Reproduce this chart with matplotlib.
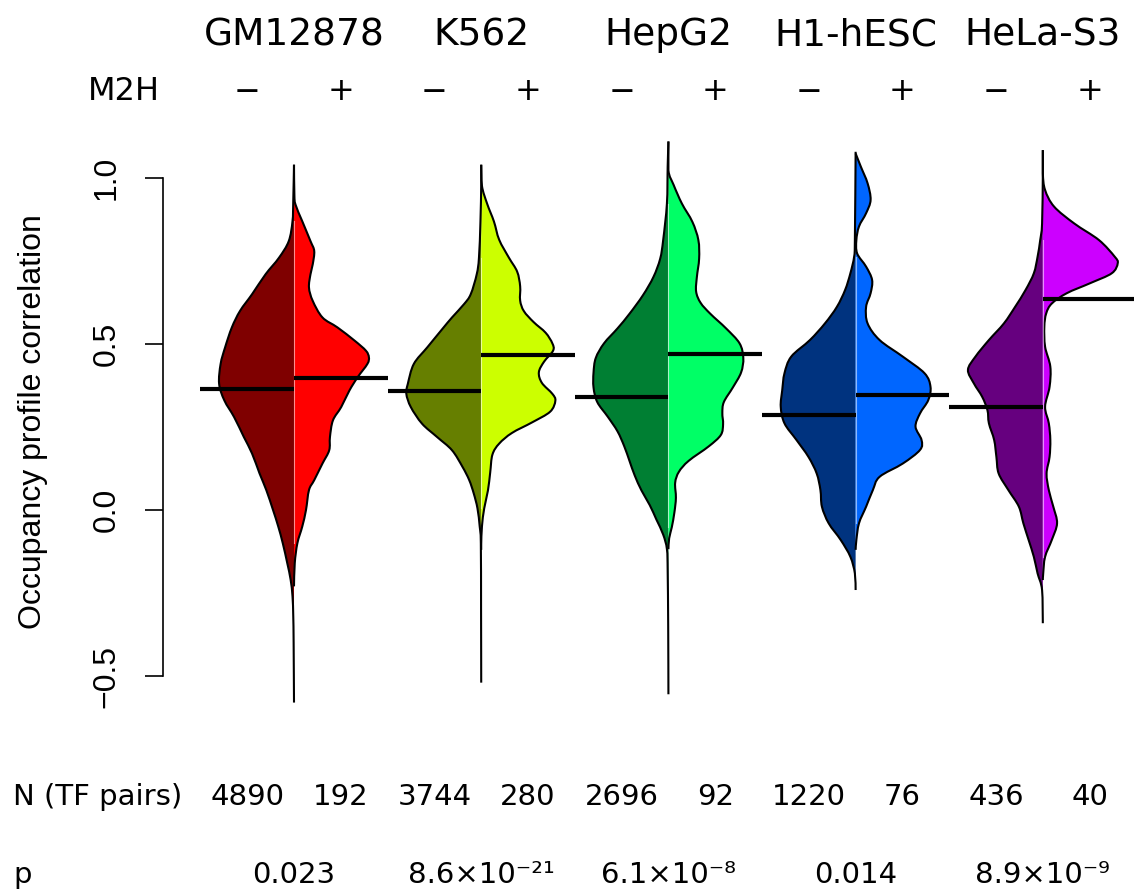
import numpy as np
import matplotlib
matplotlib.use('Agg')
import matplotlib.pyplot as plt
from matplotlib.path import Path
from matplotlib.patches import PathPatch
from matplotlib.transforms import blended_transform_factory

cell_lines = ['GM12878', 'K562', 'HepG2', 'H1-hESC', 'HeLa-S3']
n_minus = ['4890', '3744', '2696', '1220', '436']
n_plus = ['192', '280', '92', '76', '40']
p_values = ['0.023', '8.6×10\u207b\u00b2\u00b9', '6.1×10\u207b\u2078', '0.014', '8.9×10\u207b\u2079']

median_minus = [0.364, 0.358, 0.340, 0.286, 0.310]
median_plus = [0.398, 0.467, 0.470, 0.346, 0.636]

color_plus = ['#FF0000', '#CCFF00', '#00FF66', '#0066FF', '#CC00FF']
color_minus = ['#7F0000', '#667F00', '#007F33', '#00337F', '#66007F']

# density outlines: y value and relative half width
gm_minus_y = [1.04, 0.93, 0.87, 0.81, 0.76, 0.71, 0.65, 0.60, 0.55, 0.49, 0.44, 0.38, 0.33, 0.28,
              0.22, 0.17, 0.11, 0.06, 0.00, -0.05, -0.10, -0.16, -0.21, -0.26, -0.32, -0.40, -0.58]
gm_minus_w = [0, 0.01, 0.02, 0.07, 0.20, 0.38, 0.56, 0.72, 0.83, 0.92, 0.98, 1.00, 0.93, 0.80,
              0.67, 0.56, 0.46, 0.37, 0.28, 0.21, 0.15, 0.09, 0.045, 0.02, 0.01, 0.005, 0]
gm_plus_y = [1.04, 0.95, 0.92, 0.87, 0.81, 0.78, 0.74, 0.71, 0.67, 0.63, 0.58, 0.55, 0.51, 0.48, 0.46,
             0.44, 0.40, 0.36, 0.31, 0.27, 0.22, 0.18, 0.14, 0.09, 0.06, 0.00, -0.05, -0.10, -0.16, -0.23]
gm_plus_w = [0, 0.005, 0.02, 0.11, 0.22, 0.27, 0.25, 0.22, 0.20, 0.25, 0.38, 0.58, 0.81, 0.96, 1.00,
             0.98, 0.85, 0.74, 0.63, 0.52, 0.48, 0.47, 0.38, 0.27, 0.20, 0.16, 0.11, 0.045, 0.01, 0]

k562_minus_y = [1.04, 0.98, 0.87, 0.76, 0.71, 0.65, 0.62, 0.58, 0.545, 0.49, 0.44, 0.38, 0.35,
                0.31, 0.26, 0.22, 0.18, 0.13, 0.09, 0.05, 0.005, -0.05, -0.10, -0.30, -0.52]
k562_minus_w = [0, 0, 0.01, 0.03, 0.06, 0.14, 0.23, 0.39, 0.52, 0.72, 0.90, 0.98, 1.00,
                0.94, 0.79, 0.59, 0.39, 0.25, 0.16, 0.10, 0.05, 0.02, 0.005, 0.002, 0]
k562_plus_y = [1.04, 0.976, 0.922, 0.869, 0.814, 0.76, 0.718, 0.674, 0.631, 0.599, 0.566, 0.534, 0.502,
               0.48, 0.447, 0.415, 0.383, 0.35, 0.329, 0.296, 0.264, 0.232, 0.20, 0.167, 0.113, 0.059,
               0.005, -0.049, -0.103, -0.12]
k562_plus_w = [0, 0.01, 0.08, 0.17, 0.24, 0.37, 0.48, 0.52, 0.52, 0.57, 0.70, 0.86, 0.95,
               0.96, 0.84, 0.77, 0.81, 0.95, 0.99, 0.92, 0.68, 0.41, 0.24, 0.15, 0.12, 0.09,
               0.04, 0.01, 0.0, 0]

hepg2_minus_y = [1.11, 1.034, 0.923, 0.813, 0.757, 0.702, 0.647, 0.591, 0.547, 0.502, 0.458, 0.414, 0.369,
                 0.325, 0.281, 0.237, 0.192, 0.148, 0.104, 0.059, 0.015, -0.029, -0.074, -0.118, -0.184,
                 -0.35, -0.555]
hepg2_minus_w = [0, 0.01, 0.02, 0.07, 0.11, 0.20, 0.34, 0.52, 0.68, 0.86, 0.97, 1.0, 1.0,
                 0.95, 0.81, 0.68, 0.59, 0.52, 0.45, 0.36, 0.25, 0.16, 0.07, 0.02, 0.01,
                 0.003, 0]
hepg2_plus_y = [1.11, 1.023, 0.979, 0.923, 0.868, 0.813, 0.757, 0.702, 0.658, 0.624, 0.591, 0.547, 0.502,
                0.458, 0.414, 0.369, 0.325, 0.292, 0.259, 0.226, 0.192, 0.148, 0.115, 0.082, 0.037,
                -0.007, -0.052, -0.085, -0.118]
hepg2_plus_w = [0, 0, 0.07, 0.18, 0.32, 0.40, 0.41, 0.38, 0.37, 0.43, 0.56, 0.77, 0.95,
                1.0, 0.97, 0.86, 0.74, 0.72, 0.73, 0.70, 0.54, 0.27, 0.14, 0.09, 0.10,
                0.08, 0.045, 0.01, 0]

h1_minus_y = [1.079, 0.813, 0.763, 0.713, 0.663, 0.612, 0.562, 0.512, 0.462, 0.412, 0.361, 0.311,
              0.261, 0.211, 0.160, 0.110, 0.060, 0.010, -0.040, -0.090, -0.141, -0.191, -0.241]
h1_minus_w = [0, 0.01, 0.02, 0.07, 0.14, 0.25, 0.41, 0.61, 0.86, 0.95, 0.98, 1.0,
              0.95, 0.79, 0.63, 0.52, 0.47, 0.45, 0.36, 0.20, 0.07, 0.01, 0]
h1_plus_y = [1.074, 1.034, 0.984, 0.934, 0.894, 0.854, 0.813, 0.773, 0.733, 0.693, 0.653, 0.612, 0.562,
             0.512, 0.462, 0.412, 0.371, 0.331, 0.291, 0.251, 0.211, 0.181, 0.140, 0.100, 0.060,
             0.010, -0.040, -0.090, -0.120]
h1_plus_w = [0, 0.07, 0.16, 0.20, 0.14, 0.045, 0.01, 0.02, 0.14, 0.22, 0.20, 0.14, 0.16,
             0.32, 0.63, 0.92, 1.0, 0.97, 0.86, 0.80, 0.88, 0.86, 0.63, 0.32, 0.23,
             0.14, 0.045, 0.01, 0]

hela_minus_y = [1.084, 1.014, 0.863, 0.813, 0.763, 0.713, 0.663, 0.612, 0.562, 0.512, 0.462, 0.422, 0.381,
                0.341, 0.301, 0.261, 0.211, 0.160, 0.110, 0.060, 0.010, -0.040, -0.090, -0.141, -0.191,
                -0.241, -0.341]
hela_minus_w = [0, 0, 0.01, 0.035, 0.07, 0.12, 0.23, 0.37, 0.52, 0.72, 0.90, 1.0, 0.92,
                0.81, 0.74, 0.72, 0.65, 0.62, 0.59, 0.46, 0.32, 0.26, 0.19, 0.12, 0.07,
                0.01, 0]
hela_plus_y = [1.084, 1.014, 0.964, 0.914, 0.863, 0.813, 0.763, 0.743, 0.713, 0.683, 0.653, 0.622, 0.592,
               0.552, 0.492, 0.432, 0.371, 0.311, 0.261, 0.211, 0.160, 0.110, 0.060, 0.010, -0.040,
               -0.090, -0.141, -0.191, -0.211]
hela_plus_w = [0, 0, 0.03, 0.15, 0.42, 0.75, 0.96, 1.0, 0.92, 0.63, 0.32, 0.12, 0.045,
               0.02, 0.03, 0.10, 0.09, 0.03, 0.08, 0.10, 0.09, 0.05, 0.08, 0.14, 0.19,
               0.12, 0.03, 0.005, 0]

minus_beans = [(gm_minus_y, gm_minus_w), (k562_minus_y, k562_minus_w), (hepg2_minus_y, hepg2_minus_w),
               (h1_minus_y, h1_minus_w), (hela_minus_y, hela_minus_w)]
plus_beans = [(gm_plus_y, gm_plus_w), (k562_plus_y, k562_plus_w), (hepg2_plus_y, hepg2_plus_w),
              (h1_plus_y, h1_plus_w), (hela_plus_y, hela_plus_w)]

BEAN_WIDTH = 0.40
LINE_LEN = 0.5


def smooth_edge(xs, ys, center, side):
    # catmull-rom through the outline points, control points kept on the bean's side
    pts = np.column_stack([xs, ys])
    n = len(pts)
    verts = [pts[0]]
    codes = [Path.MOVETO]
    for i in range(n - 1):
        p0 = pts[i - 1] if i > 0 else pts[i]
        p1 = pts[i]
        p2 = pts[i + 1]
        p3 = pts[i + 2] if i + 2 < n else pts[i + 1]
        c1 = p1 + (p2 - p0) / 6.0
        c2 = p2 - (p3 - p1) / 6.0
        for c in (c1, c2):
            if side * (c[0] - center) < 0:
                c[0] = center
        verts += [c1, c2, p2]
        codes += [Path.CURVE4] * 3
    return verts, codes


def draw_half(ax, center, ys, ws, side, color):
    ys = np.array(ys, dtype=float)
    xs = center + side * np.array(ws) * BEAN_WIDTH
    verts, codes = smooth_edge(xs, ys, center, side)
    fill_verts = verts + [(center, ys[-1]), (center, ys[0]), (center, ys[0])]
    fill_codes = codes + [Path.LINETO, Path.LINETO, Path.CLOSEPOLY]
    ax.add_patch(PathPatch(Path(fill_verts, fill_codes), facecolor=color, edgecolor='none', zorder=2))
    ax.add_patch(PathPatch(Path(verts, codes), facecolor='none', edgecolor='black', lw=1.5, zorder=3))


def main():
    plt.rcParams['font.family'] = ['DejaVu Sans']

    fig = plt.figure(figsize=(11.34, 8.92), dpi=100)
    ax = fig.add_axes([163 / 1134, 172 / 892, 971 / 1134, 590 / 892])
    ax.set_xlim(0.3002, 5.487)
    ax.set_ylim(-0.6325, 1.1446)

    positions = np.arange(1, len(cell_lines) + 1)
    for i, c in enumerate(positions):
        my, mw = minus_beans[i]
        py, pw = plus_beans[i]
        draw_half(ax, c, my, mw, -1, color_minus[i])
        draw_half(ax, c, py, pw, 1, color_plus[i])

        # light seam between the two halves
        my_a, mw_a = np.array(my), np.array(mw)
        py_a, pw_a = np.array(py), np.array(pw)
        top = min(my_a[mw_a >= 0.02].max(), py_a[pw_a >= 0.02].max())
        bottom = max(my_a[mw_a >= 0.02].min(), py_a[pw_a >= 0.02].min())
        ax.plot([c, c], [bottom, top], color='white', alpha=0.55, lw=0.8, zorder=4)

        ax.plot([c - LINE_LEN, c], [median_minus[i]] * 2, color='black', lw=3, solid_capstyle='butt', zorder=5)
        ax.plot([c, c + LINE_LEN], [median_plus[i]] * 2, color='black', lw=3, solid_capstyle='butt', zorder=5)

    for s in ['top', 'right', 'bottom']:
        ax.spines[s].set_visible(False)
    ax.spines['left'].set_bounds(-0.5, 1.0)
    ax.spines['left'].set_linewidth(1.2)
    ax.set_xticks([])
    ax.set_yticks([-0.5, 0.0, 0.5, 1.0])
    ax.set_yticklabels(['\u22120.5', '0.0', '0.5', '1.0'], family='Liberation Sans', fontsize=23,
                       rotation=90, va='center')
    ax.tick_params(axis='y', length=13, width=1.2, pad=17)
    ax.set_ylabel('Occupancy profile correlation', family='Liberation Sans', fontsize=23)
    ax.yaxis.set_label_coords(-0.118, 0.505)

    trans = blended_transform_factory(ax.transData, fig.transFigure)
    for i, c in enumerate(positions):
        ax.text(c, 1 - 35 / 892, cell_lines[i], transform=trans, ha='center', va='center', fontsize=27)
        ax.text(c - 0.25, 1 - 92 / 892, '\u2212', transform=trans, ha='center', va='center', fontsize=23)
        ax.text(c + 0.25, 1 - 92 / 892, '+', transform=trans, ha='center', va='center', fontsize=23)
        ax.text(c - 0.25, 1 - 797 / 892, n_minus[i], transform=trans, ha='center', va='center', fontsize=21)
        ax.text(c + 0.25, 1 - 797 / 892, n_plus[i], transform=trans, ha='center', va='center', fontsize=21)
        ax.text(c, 1 - 875 / 892, p_values[i], transform=trans, ha='center', va='center', fontsize=21)

    fig.text(160 / 1134, 1 - 92 / 892, 'M2H', ha='right', va='center', fontsize=23)
    fig.text(13 / 1134, 1 - 797 / 892, 'N (TF pairs)', ha='left', va='center', fontsize=21)
    fig.text(13 / 1134, 1 - 875 / 892, 'p', ha='left', va='center', fontsize=21)

    plt.savefig('out.png', dpi=100)


if __name__ == '__main__':
    main()
